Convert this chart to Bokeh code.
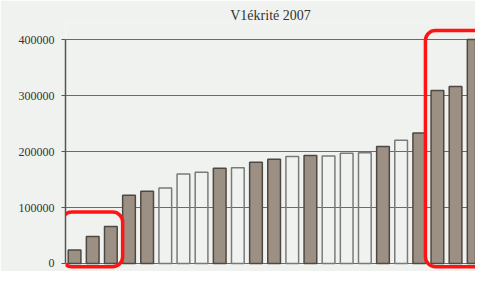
from bokeh.plotting import figure
from bokeh.models import Range1d, BoxAnnotation, ColumnDataSource, FixedTicker
from bokeh.embed import file_html
from bokeh.resources import INLINE

title_text = "V1ékrité 2007"
positions = list(range(1, 24))
values = [24000, 48000, 66000, 122000, 129000, 135000, 160000, 163000, 170000,
          171000, 181000, 186000, 191000, 193000, 192000, 197000, 198000, 209000,
          220000, 233000, 309000, 316000, 400000]
kinds = ["B", "B", "B", "B", "B", "W", "W", "W", "B", "W", "B", "B", "W", "B",
         "W", "W", "W", "B", "W", "B", "B", "B", "B"]
y_ticks = [0, 100000, 200000, 300000, 400000]
y_tick_labels = ["0", "100000", "200000", "300000", "400000"]
highlight_groups = [(0, 2), (20, 22)]

BG = "#eff2ee"
BROWN = "#9c9084"

fill_colors = [BROWN if k == "B" else BG for k in kinds]
fill_alphas = [1.0 if k == "B" else 0.0 for k in kinds]
line_colors = ["#4f4842" if k == "B" else "#7a7a7a" for k in kinds]

src = ColumnDataSource(dict(x=positions, top=values, fc=fill_colors,
                            fa=fill_alphas, lc=line_colors))

p = figure(width=475, height=271, output_backend="svg", toolbar_location=None,
           x_axis_location=None, title=title_text,
           x_range=Range1d(0.5, 23.1), y_range=Range1d(-14300, 430400),
           min_border_left=65, min_border_right=0, min_border_top=22,
           min_border_bottom=0)

p.background_fill_color = BG
p.border_fill_color = BG
p.outline_line_color = None

p.title.align = "center"
p.title.text_font = "Liberation Serif"
p.title.text_font_size = "14px"
p.title.text_font_style = "normal"
p.title.text_color = "#333333"
p.title.offset = 0
p.title.standoff = 0

ax = p.yaxis[0]
ax.ticker = FixedTicker(ticks=y_ticks)
ax.major_label_overrides = {t: l for t, l in zip(y_ticks, y_tick_labels)}
ax.bounds = (y_ticks[0], y_ticks[-1])
ax.axis_line_color = "#555555"
ax.axis_line_width = 1.5
ax.major_tick_line_color = "#555555"
ax.major_tick_in = 0
ax.major_tick_out = 4
ax.minor_tick_line_color = None
ax.major_label_text_font = "Liberation Serif"
ax.major_label_text_font_size = "12px"
ax.major_label_text_color = "#333333"
ax.major_label_standoff = 7

p.xgrid.visible = False
p.ygrid.ticker = FixedTicker(ticks=y_ticks)
p.ygrid.grid_line_color = "#6a6a6a"
p.ygrid.grid_line_width = 1.2

p.vbar(x="x", top="top", width=0.7, source=src, fill_color="fc",
       fill_alpha="fa", line_color="lc", line_width=1.5)

pads = [(0.71, 0.65, 26000), (0.66, 1.0, 16000)]
for (a, b), (pl, pr, pt) in zip(highlight_groups, pads):
    box = BoxAnnotation(left=positions[a] - pl, right=positions[b] + pr,
                        bottom=-5800, top=max(values[a:b + 1]) + pt,
                        fill_alpha=0, line_color="#ff1414", line_alpha=1.0,
                        line_width=3.5, border_radius=10)
    p.add_layout(box)

open("out.html", "w").write(file_html(p, INLINE))
